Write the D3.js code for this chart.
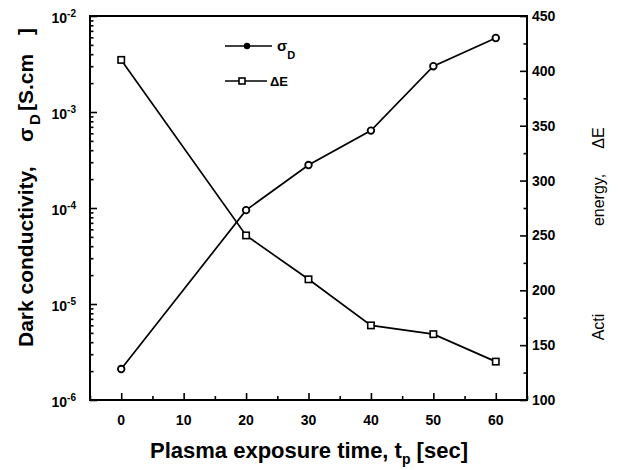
<!DOCTYPE html>
<html><head><meta charset="utf-8">
<script src="https://cdn.jsdelivr.net/npm/d3@7"></script>
<style>
body{margin:0;background:#fff}
svg{display:block}
text{font-family:"Liberation Sans",Arial,sans-serif;fill:#000}
</style>
</head><body><svg id="c" width="618" height="470"></svg>
<script>
// ---- data ----
const times = [0, 20, 30, 40, 50, 60];
const sigmaD = [2.1e-6, 9.5e-5, 2.8e-4, 6.4e-4, 3.0e-3, 5.9e-3];
const deltaE = [410, 250, 210, 168, 160, 135];
const xTicks = [0, 10, 20, 30, 40, 50, 60];
const xMinor = [-5, 5, 15, 25, 35, 45, 55, 65];
const leftExps = [-2, -3, -4, -5, -6];
const rightTicks = [100, 150, 200, 250, 300, 350, 400, 450];
const rightMinor = [125, 175, 225, 275, 325, 375, 425];

const svg = d3.select('#c');
const L = 90, R = 527, T = 16, B = 400;
const x = d3.scaleLinear().domain([-5, 65]).range([L, R]);
const yL = d3.scaleLog().domain([1e-6, 1e-2]).range([B, T]);
const yR = d3.scaleLinear().domain([100, 450]).range([B, T]);

// minor log ticks
const logMinor = [];
for (let e = -6; e < -2; e++) for (let m = 2; m <= 9; m++) logMinor.push(m * Math.pow(10, e));

function ticks(axis, tr) {
  const g = svg.append('g').attr('transform', tr).call(axis);
  g.select('.domain').remove();
  g.selectAll('.tick line').attr('stroke', '#000').attr('stroke-width', 1.6);
  g.selectAll('.tick text').remove();
  return g;
}
// left
ticks(d3.axisLeft(yL).tickValues(leftExps.map(e => Math.pow(10, e))).tickSize(-7), `translate(${L},0)`);
ticks(d3.axisLeft(yL).tickValues(logMinor).tickSize(-3.5), `translate(${L},0)`);
// right
ticks(d3.axisRight(yR).tickValues(rightTicks).tickSize(-7), `translate(${R},0)`);
ticks(d3.axisRight(yR).tickValues(rightMinor).tickSize(-3.5), `translate(${R},0)`);
// bottom
ticks(d3.axisBottom(x).tickValues(xTicks).tickSize(-7), `translate(0,${B})`);
ticks(d3.axisBottom(x).tickValues(xMinor).tickSize(-4), `translate(0,${B})`);

// frame
svg.append('rect').attr('x', L).attr('y', T).attr('width', R - L).attr('height', B - T)
  .attr('fill', 'none').attr('stroke', '#000').attr('stroke-width', 2);

// tick labels
svg.append('g').selectAll('text').data(xTicks).join('text')
  .attr('x', d => x(d)).attr('y', 425).attr('text-anchor', 'middle')
  .attr('font-size', 14).attr('font-weight', 'bold').text(d => d);

svg.append('g').selectAll('text').data(rightTicks).join('text')
  .attr('x', 532).attr('y', d => yR(d) + 5).attr('text-anchor', 'start')
  .attr('font-size', 14).attr('font-weight', 'bold').text(d => d);

const lt = svg.append('g').selectAll('text').data(leftExps).join('text')
  .attr('x', 76).attr('y', d => yL(Math.pow(10, d)) + 7).attr('text-anchor', 'end')
  .attr('font-size', 14).attr('font-weight', 'bold');
lt.append('tspan').text('10');
lt.append('tspan').attr('dy', -6).attr('font-size', 10).text(d => String(d));

// lines
const lineS = d3.line().x((d, i) => x(times[i])).y(d => yL(d));
const lineE = d3.line().x((d, i) => x(times[i])).y(d => yR(d));
svg.append('path').attr('d', lineS(sigmaD)).attr('fill', 'none').attr('stroke', '#000').attr('stroke-width', 1.7);
svg.append('path').attr('d', lineE(deltaE)).attr('fill', 'none').attr('stroke', '#000').attr('stroke-width', 1.7);

// markers
svg.append('g').selectAll('circle').data(sigmaD).join('circle')
  .attr('cx', (d, i) => x(times[i])).attr('cy', d => yL(d)).attr('r', 3.3)
  .attr('fill', '#fff').attr('stroke', '#000').attr('stroke-width', 1.8);
svg.append('g').selectAll('rect').data(deltaE).join('rect')
  .attr('x', (d, i) => x(times[i]) - 3.2).attr('y', d => yR(d) - 3.2)
  .attr('width', 6.4).attr('height', 6.4)
  .attr('fill', '#fff').attr('stroke', '#000').attr('stroke-width', 1.6);

// legend
const lg = svg.append('g');
lg.append('line').attr('x1', 225).attr('x2', 272).attr('y1', 46).attr('y2', 46).attr('stroke', '#000').attr('stroke-width', 1.6);
lg.append('circle').attr('cx', 247).attr('cy', 46).attr('r', 3.2).attr('fill', '#000');
const ls = lg.append('text').attr('x', 277).attr('y', 51).attr('font-size', 15).attr('font-weight', 'bold');
ls.append('tspan').text('σ');
ls.append('tspan').attr('dy', 8).attr('font-size', 11).text('D');
lg.append('line').attr('x1', 225).attr('x2', 267).attr('y1', 81).attr('y2', 81).attr('stroke', '#000').attr('stroke-width', 1.6);
lg.append('rect').attr('x', 239).attr('y', 78).attr('width', 6).attr('height', 6).attr('fill', '#fff').attr('stroke', '#000').attr('stroke-width', 1.6);
lg.append('text').attr('x', 270).attr('y', 86).attr('font-size', 13).attr('font-weight', 'bold').text('ΔE');

// x title
const xt = svg.append('text').attr('x', 309).attr('y', 458).attr('text-anchor', 'middle')
  .attr('font-size', 22).attr('font-weight', 'bold');
xt.append('tspan').text('Plasma exposure time, t');
xt.append('tspan').attr('dy', 6).attr('font-size', 14).text('p');
xt.append('tspan').attr('dy', -6).text(' [sec]');

// left title (pieces placed along the rotated axis)
const ytg = svg.append('g').attr('transform', 'translate(33,347) rotate(-90)')
  .attr('font-size', 21).attr('font-weight', 'bold');
ytg.append('text').attr('x', 0).attr('y', 0).text('Dark conductivity,');
ytg.append('text').attr('x', 205).attr('y', 0).text('σ');
ytg.append('text').attr('x', 222).attr('y', 7).attr('font-size', 15).text('D');
ytg.append('text').attr('x', 236).attr('y', 0).text('[S.cm');
ytg.append('text').attr('x', 312).attr('y', 0).text(']');

// right title
svg.append('text').attr('transform', 'translate(604,327) rotate(-90)').attr('text-anchor', 'middle')
  .attr('font-size', 16).text('Acti');
svg.append('text').attr('transform', 'translate(604,200) rotate(-90)').attr('text-anchor', 'middle')
  .attr('font-size', 16).text('energy,');
svg.append('text').attr('transform', 'translate(604,138) rotate(-90)').attr('text-anchor', 'middle')
  .attr('font-size', 16).text('ΔE');
</script>
</body></html>
